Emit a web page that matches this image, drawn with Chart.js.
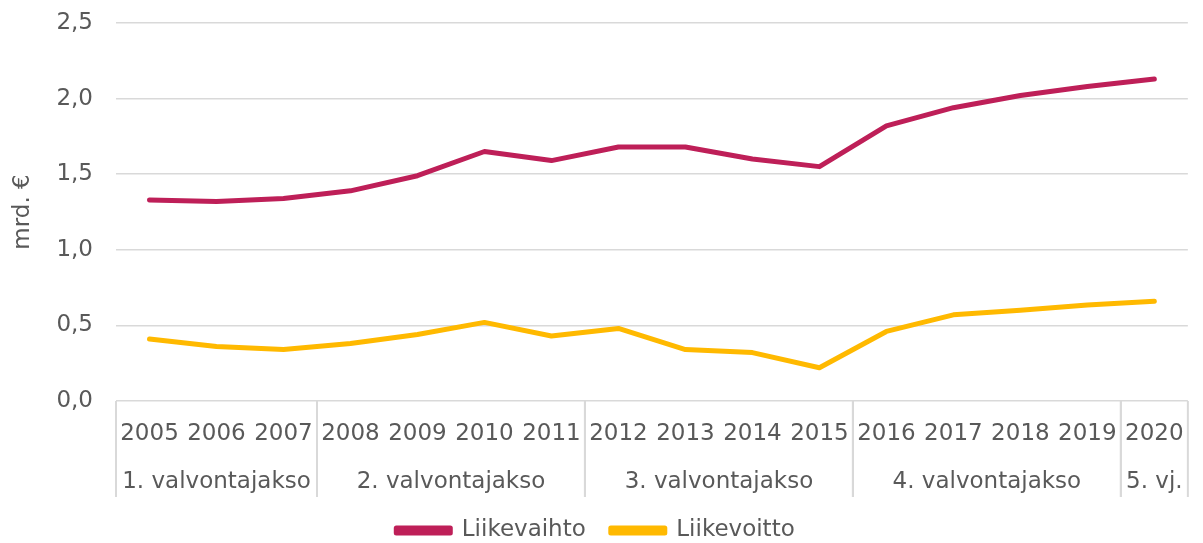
<!DOCTYPE html>
<html>
<head>
<meta charset="utf-8">
<script src="https://cdn.jsdelivr.net/npm/chart.js@4/dist/chart.umd.min.js"></script>
<style>
    html, body { margin: 0; padding: 0; background: #ffffff; }
    #chart-container { width: 1203px; height: 543px; }
</style>
</head>
<body>
<div id="chart-container"><canvas id="chart"></canvas></div>
<script>
const years = ['2005', '2006', '2007', '2008', '2009', '2010', '2011', '2012', '2013', '2014', '2015', '2016', '2017', '2018', '2019', '2020'];
const liikevaihto = [1.33, 1.32, 1.34, 1.39, 1.49, 1.65, 1.59, 1.68, 1.68, 1.60, 1.55, 1.82, 1.94, 2.02, 2.08, 2.13];
const liikevoitto = [0.41, 0.36, 0.34, 0.38, 0.44, 0.52, 0.43, 0.48, 0.34, 0.32, 0.22, 0.46, 0.57, 0.60, 0.635, 0.66];
const groupLabels = ['1. valvontajakso', '2. valvontajakso', '3. valvontajakso', '4. valvontajakso', '5. vj.'];
const groupSizes = [3, 4, 4, 4, 1];

const textColor = '#595959';
const gridColor = '#d9d9d9';
const fontFamily = '"DejaVu Sans", Verdana, sans-serif';

// Draws the period separators and period names under the year labels
const groupAxisPlugin = {
    id: 'groupAxis',
    afterDraw: (chart) => {
        const ctx = chart.ctx;
        const xScale = chart.scales.x;
        const bottom = chart.chartArea.bottom;
        const half = (xScale.getPixelForValue(1) - xScale.getPixelForValue(0)) / 2;
        ctx.save();
        ctx.strokeStyle = gridColor;
        ctx.lineWidth = 2;
        ctx.fillStyle = textColor;
        ctx.font = '23px ' + fontFamily;
        ctx.textAlign = 'center';
        ctx.textBaseline = 'middle';
        let start = 0;
        groupSizes.forEach((size, i) => {
            let left = xScale.getPixelForValue(start) - half;
            let right = xScale.getPixelForValue(start + size - 1) + half;
            [left, right].forEach(x => {
                ctx.beginPath();
                ctx.moveTo(x, bottom);
                ctx.lineTo(x, bottom + 96);
                ctx.stroke();
            });
            ctx.fillText(groupLabels[i], (left + right) / 2, bottom + 81);
            start += size;
        });
        ctx.restore();
    }
};

new Chart(document.getElementById('chart').getContext('2d'), {
    type: 'line',
    data: {
        labels: years,
        datasets: [
            {
                label: 'Liikevaihto',
                data: liikevaihto,
                borderColor: '#be1f58',
                backgroundColor: '#be1f58',
                borderWidth: 5,
                pointRadius: 0,
                borderCapStyle: 'round',
                borderJoinStyle: 'round',
                tension: 0
            },
            {
                label: 'Liikevoitto',
                data: liikevoitto,
                borderColor: '#ffb900',
                backgroundColor: '#ffb900',
                borderWidth: 5,
                pointRadius: 0,
                borderCapStyle: 'round',
                borderJoinStyle: 'round',
                tension: 0
            }
        ]
    },
    options: {
        responsive: true,
        maintainAspectRatio: false,
        animation: false,
        layout: {
            padding: { top: 23, right: 12, left: 0, bottom: -9 }
        },
        plugins: {
            tooltip: { enabled: false },
            legend: {
                position: 'bottom',
                labels: {
                    color: textColor,
                    font: { family: fontFamily, size: 23 },
                    boxWidth: 54,
                    boxHeight: 5,
                    padding: 25
                }
            }
        },
        scales: {
            x: {
                offset: true,
                grid: { display: false, drawTicks: false },
                border: { display: false },
                ticks: {
                    color: textColor,
                    font: { family: fontFamily, size: 23 },
                    padding: 19,
                    maxRotation: 0,
                    autoSkip: false
                },
                afterFit: (scale) => { scale.height = 93; }
            },
            y: {
                min: 0,
                max: 2.5,
                border: { display: false },
                grid: { color: gridColor, lineWidth: 1.5, drawTicks: false },
                ticks: {
                    stepSize: 0.5,
                    color: textColor,
                    font: { family: fontFamily, size: 23 },
                    padding: 23,
                    callback: (value) => value.toFixed(1).replace('.', ',')
                },
                title: {
                    display: true,
                    text: 'mrd. €',
                    color: textColor,
                    font: { family: fontFamily, size: 23 },
                    padding: { top: 9, bottom: 0 }
                },
                afterFit: (scale) => {
                    scale.width = 116;
                    // the tick padding should not push the plot down
                    scale.paddingTop = 0;
                    scale.paddingBottom = 0;
                }
            }
        }
    },
    plugins: [groupAxisPlugin]
});
</script>
</body>
</html>
